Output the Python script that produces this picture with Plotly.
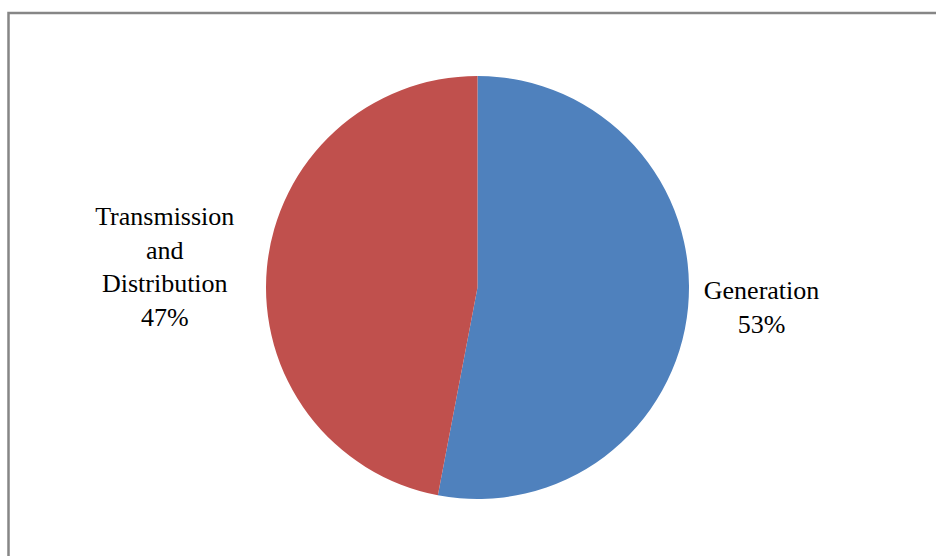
import plotly.graph_objects as go

# Share of losses by segment
categories = ["Generation", "Transmission<br>and<br>Distribution"]
shares = [53, 47]
colors = ["#4F81BD", "#C0504D"]

W, H = 936, 556

fig = go.Figure(
    go.Pie(
        labels=categories,
        values=shares,
        sort=False,
        direction="clockwise",
        rotation=0,
        marker=dict(colors=colors, line=dict(width=0)),
        textinfo="label+percent",
        texttemplate="%{label}<br>%{percent:.0%}",
        textposition="outside",
        textfont=dict(family="Liberation Serif, Times New Roman, serif",
                      size=26, color="#000000"),
        showlegend=False,
        hoverinfo="label+percent",
        domain=dict(x=[266 / W, 689 / W], y=[57 / H, 480 / H]),
    )
)

# chart frame
fig.add_shape(
    type="rect",
    xref="paper", yref="paper",
    x0=8.5 / W, x1=1.02, y0=-0.02, y1=(H - 13) / H,
    line=dict(color="#868686", width=2.5),
    fillcolor="rgba(0,0,0,0)",
    layer="above",
)

fig.update_layout(
    width=W,
    height=H,
    margin=dict(l=0, r=0, t=0, b=0),
    font=dict(family="Liberation Serif, Times New Roman, serif"),
    paper_bgcolor="#FFFFFF",
    plot_bgcolor="#FFFFFF",
)

fig.write_html("out.html")
